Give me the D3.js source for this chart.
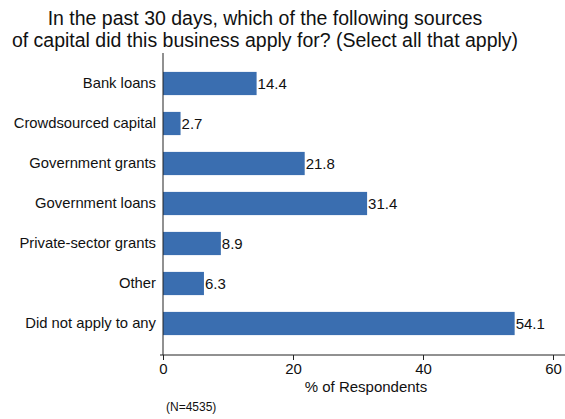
<!DOCTYPE html>
<html><head><meta charset="utf-8">
<script src="https://cdn.jsdelivr.net/npm/d3@7"></script>
<style>body{margin:0;background:#fff}svg{display:block}text{font-family:"Liberation Sans",Arial,sans-serif;fill:#111}</style>
</head><body>
<svg id="c" width="565" height="419"></svg>
<script>
const categories = ["Bank loans","Crowdsourced capital","Government grants","Government loans","Private-sector grants","Other","Did not apply to any"];
const values = [14.4, 2.7, 21.8, 31.4, 8.9, 6.3, 54.1];
const xTicks = [0, 20, 40, 60];
const titleLines = ["In the past 30 days, which of the following sources","of capital did this business apply for? (Select all that apply)"];
const xTitle = "% of Respondents";
const note = "(N=4535)";

const svg = d3.select("#c");
svg.append("rect").attr("width",565).attr("height",419).attr("fill","#fff");

const x = d3.scaleLinear().domain([0,60]).range([163,553]);
const y = d3.scaleBand().domain(categories).range([63.5,343.5]).paddingInner(0.42).paddingOuter(0.21);

svg.selectAll("text.title").data(titleLines).join("text").attr("class","title")
  .attr("x",265).attr("y",(d,i)=>25+i*22).attr("text-anchor","middle").attr("font-size",19.5).text(d=>d);

svg.selectAll("rect.bar").data(values).join("rect").attr("class","bar")
  .attr("x",x(0)).attr("y",(d,i)=>y(categories[i])).attr("width",d=>x(d)-x(0)).attr("height",y.bandwidth())
  .attr("fill","#3a6eb0");

svg.selectAll("text.val").data(values).join("text").attr("class","val")
  .attr("x",d=>x(d)+1).attr("y",(d,i)=>y(categories[i])+y.bandwidth()/2).attr("dy","0.36em")
  .attr("font-size",15).text(d=>d.toFixed(1));

const ya = svg.append("g").attr("transform",`translate(${x(0)},0)`)
  .call(d3.axisLeft(y).tickSize(0).tickPadding(7));
ya.select(".domain").remove();
ya.append("line").attr("x1",0).attr("x2",0).attr("y1",53).attr("y2",355).attr("stroke","#222");
ya.selectAll("text").attr("font-size",14.8).attr("fill","#111").attr("font-family",null);

const xa = svg.append("g").attr("transform","translate(0,355)")
  .call(d3.axisBottom(x).tickValues(xTicks).tickSize(5).tickPadding(3));
xa.select(".domain").attr("d","M160,0H565").attr("stroke","#222");
xa.selectAll(".tick line").attr("stroke","#222");
xa.selectAll("text").attr("font-size",15).attr("fill","#111").attr("font-family",null);

svg.append("text").attr("x",366).attr("y",392).attr("text-anchor","middle").attr("font-size",15).text(xTitle);
svg.append("text").attr("x",166).attr("y",411).attr("font-size",12).text(note);
</script>
</body></html>
